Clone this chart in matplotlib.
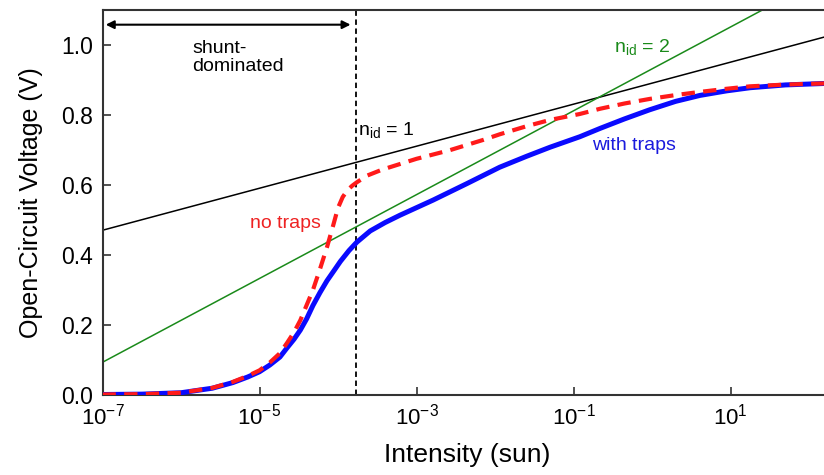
import matplotlib
matplotlib.use("Agg")
import matplotlib.pyplot as plt
import numpy as np

plt.rcParams['font.family'] = ['Liberation Sans', 'DejaVu Sans']
plt.rcParams['mathtext.fontset'] = 'custom'
plt.rcParams['mathtext.rm'] = 'Liberation Sans'
plt.rcParams['mathtext.it'] = 'Liberation Sans:italic'

# --- data (log10 intensity, Voc) ---
traps_logI = [-7.0, -6.5, -6.0, -5.6, -5.34, -5.15, -5.0, -4.87, -4.74, -4.65, -4.56, -4.48,
              -4.4, -4.32, -4.23, -4.14, -4.05, -3.97, -3.86, -3.76, -3.59, -3.4, -3.21,
              -2.79, -2.36, -1.94, -1.6, -1.3, -0.92, -0.66, -0.35, -0.03, 0.3, 0.61,
              0.95, 1.25, 1.7, 2.3]
traps_voc = [0.002, 0.003, 0.007, 0.02, 0.036, 0.052, 0.067, 0.086, 0.109, 0.135, 0.16, 0.186,
             0.218, 0.256, 0.293, 0.327, 0.356, 0.382, 0.413, 0.437, 0.469, 0.493, 0.514,
             0.557, 0.604, 0.651, 0.682, 0.708, 0.738, 0.762, 0.789, 0.815, 0.839, 0.856,
             0.869, 0.878, 0.886, 0.891]

notraps_logI = [-7.0, -6.5, -6.0, -5.6, -5.34, -5.15, -5.0, -4.87, -4.74, -4.65, -4.56, -4.48,
                -4.4, -4.32, -4.23, -4.14, -4.06, -4.0, -3.94, -3.88, -3.82, -3.76, -3.63,
                -3.45, -3.34, -3.0, -2.57, -2.15, -1.94, -1.6, -1.3, -0.92, -0.66, -0.35,
                -0.03, 0.3, 0.61, 0.95, 1.25, 1.7, 2.3]
notraps_voc = [0.002, 0.003, 0.007, 0.021, 0.038, 0.055, 0.071, 0.093, 0.12, 0.149, 0.18, 0.214,
               0.257, 0.30, 0.36, 0.423, 0.486, 0.535, 0.566, 0.585, 0.598, 0.608, 0.627,
               0.643, 0.651, 0.675, 0.70, 0.729, 0.745, 0.768, 0.786, 0.803, 0.818, 0.833,
               0.846, 0.857, 0.866, 0.875, 0.882, 0.887, 0.891]

nid1_I = [1e-7, 10**2.3]
nid1_voc = [0.471, 1.029]
nid2_I = [1e-7, 10**2.3]
nid2_voc = [0.094, 1.207]

shunt_limit = 1.7e-4
xticks = [1e-7, 1e-5, 1e-3, 1e-1, 1e1]
xticklabels = ['10$^{-7}$', '10$^{-5}$', '10$^{-3}$', '10$^{-1}$', '10$^{1}$']
yticks = [0.0, 0.2, 0.4, 0.6, 0.8, 1.0]

fig = plt.figure(figsize=(8.24, 4.75), dpi=100)
ax = fig.add_axes([0.1244, 0.168, 0.886, 0.811])

ax.plot(nid1_I, nid1_voc, color='black', lw=1.1, zorder=2)
ax.plot(nid2_I, nid2_voc, color='#1a8a1a', lw=1.1, zorder=2)
ax.plot(10**np.array(traps_logI), traps_voc, color='#0a0aff', lw=3.6, zorder=3,
        solid_capstyle='butt', solid_joinstyle='round')
ax.plot(10**np.array(notraps_logI), notraps_voc, color='#ff1a1a', lw=3.0, zorder=4,
        dashes=(3.2, 2.0), dash_joinstyle='round')
ax.axvline(shunt_limit, color='black', lw=1.3, ls=(0, (3, 2)), zorder=1)

ax.set_xscale('log')
ax.set_xlim(1e-7, 10**2.3)
ax.set_ylim(0, 1.1)
ax.set_xticks(xticks)
ax.set_xticklabels(xticklabels)
ax.xaxis.set_minor_locator(matplotlib.ticker.NullLocator())
ax.set_yticks(yticks)
ax.set_yticklabels([f'{v:.1f}' for v in yticks])
ax.tick_params(direction='in', length=6, width=1.2, pad=6, colors='#333333',
               labelcolor='black')
ax.tick_params(axis='x', labelsize=16)
ax.tick_params(axis='y', labelsize=16.5, pad=7)
for s in ax.spines.values():
    s.set_linewidth(1.5)
    s.set_color('#333333')

ax.set_xlabel('Intensity (sun)', fontsize=19, labelpad=10)
ax.set_ylabel('Open-Circuit Voltage (V)', fontsize=18, labelpad=13)

ax.annotate('', xy=(1.1e-7, 1.058), xytext=(shunt_limit * 0.85, 1.058),
            arrowprops=dict(arrowstyle='<|-|>', color='black', lw=1.5,
                            mutation_scale=12, shrinkA=0, shrinkB=0))
ax.text(1.4e-6, 0.964, 'shunt-\ndominated', fontsize=14, ha='left', va='center',
        linespacing=1.1)
ax.text(1.8e-4, 0.757, r'n$_{\mathrm{id}}$ = 1', fontsize=14, color='black', ha='left', va='center')
ax.text(0.33, 0.995, r'n$_{\mathrm{id}}$ = 2', fontsize=14, color='#1a8a1a', ha='left', va='center')
ax.text(0.17, 0.714, 'with traps', fontsize=14, color='#1a1add', ha='left', va='center')
ax.text(7.6e-6, 0.49, 'no traps', fontsize=14, color='#ee2222', ha='left', va='center')

fig.savefig('out.png', dpi=100)
